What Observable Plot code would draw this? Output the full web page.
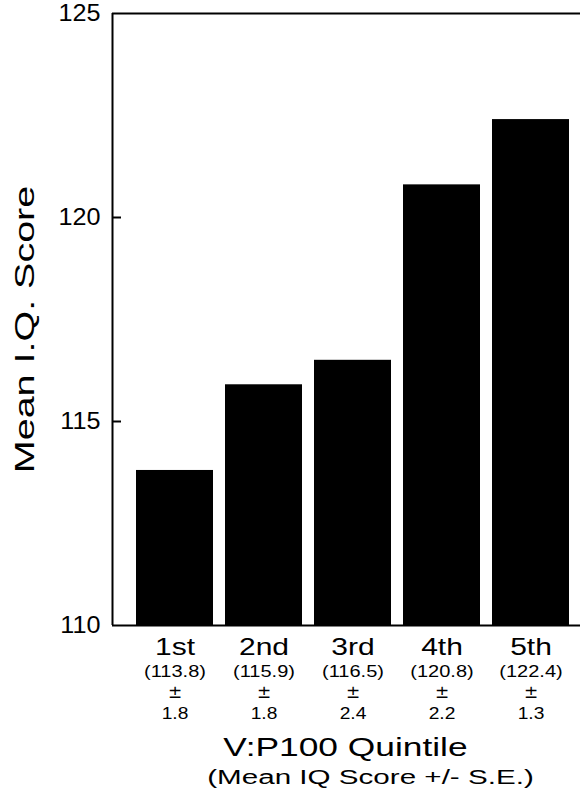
<!DOCTYPE html>
<html>
<head>
<meta charset="utf-8">
<script src="https://cdn.jsdelivr.net/npm/d3@7"></script>
<script src="https://cdn.jsdelivr.net/npm/@observablehq/plot@0.6"></script>
<style>
  html, body { margin: 0; padding: 0; background: white; }
</style>
</head>
<body>
<div id="chart"></div>
<script>
const quintiles = ["1st", "2nd", "3rd", "4th", "5th"];
const meanIQ = [113.8, 115.9, 116.5, 120.8, 122.4];
const stdErr = [1.8, 1.8, 2.4, 2.2, 1.3];
const yTicks = [110, 115, 120, 125];
const yInnerTicks = [115, 120];
const yDomain = [110, 125];
const xTitle = "V:P100 Quintile";
const xSubtitle = "(Mean IQ Score +/- S.E.)";
const yTitle = "Mean I.Q. Score";

const W = 580, H = 804, mL = 112, mR = 0, mT = 13, mB = 179;

const data = quintiles.map((q, i) => ({q, iq: meanIQ[i], se: stdErr[i]}));

const chart = Plot.plot({
  width: W,
  height: H,
  marginLeft: mL,
  marginRight: mR,
  marginTop: mT,
  marginBottom: mB,
  style: {fontFamily: "'Liberation Sans', Arial, Helvetica, sans-serif", background: "white", color: "black"},
  x: {domain: quintiles, paddingInner: 0.14, paddingOuter: 0.184, align: 0.667, axis: null},
  y: {domain: yDomain, axis: null},
  marks: [
    Plot.barY(data, {x: "q", y1: yDomain[0], y2: "iq", fill: "black"}),
    Plot.ruleY(yDomain, {stroke: "black", strokeWidth: 2}),
    Plot.ruleX([yDomain], {x: null, y1: d => d[0], y2: d => d[1], dx: -(W - mL - mR) / 2, stroke: "black", strokeWidth: 2}),
    Plot.axisY(yInnerTicks, {tickSize: 9, dx: 9, strokeWidth: 2, tickFormat: () => "", label: null}),
    Plot.axisY(yTicks, {tickSize: 0, tickPadding: 12, fontSize: 24, label: null}),
    Plot.text(data, {x: "q", frameAnchor: "bottom", text: "q", dy: 29, lineAnchor: "bottom", fontSize: 24}),
    Plot.text(data, {x: "q", frameAnchor: "bottom", text: d => `(${d.iq.toFixed(1)})`, dy: 51, lineAnchor: "bottom", fontSize: 16}),
    Plot.text(data, {x: "q", frameAnchor: "bottom", text: () => "±", dy: 72, lineAnchor: "bottom", fontSize: 17, fontFamily: "'DejaVu Sans', sans-serif"}),
    Plot.text(data, {x: "q", frameAnchor: "bottom", text: d => d.se.toFixed(1), dy: 93, lineAnchor: "bottom", fontSize: 16}),
    Plot.text([xTitle], {frameAnchor: "bottom", text: d => d, dy: 130, dx: -1, lineAnchor: "bottom", fontSize: 26}),
    Plot.text([xSubtitle], {frameAnchor: "bottom", text: d => d, dy: 158, dx: 24, lineAnchor: "bottom", fontSize: 21}),
    Plot.text([yTitle], {frameAnchor: "left", textAnchor: "middle", text: d => d, dx: -79, dy: 10, rotate: -90, lineAnchor: "bottom", fontSize: 28})
  ]
});

// horizontal stretch of glyphs, to match the wide lettering of the original
const seStrings = stdErr.map(v => v.toFixed(1));
const tickStrings = yTicks.map(String);
function stretchFor(s) {
  if (s === yTitle) return 1.41;
  if (s === xTitle) return 1.36;
  if (s === xSubtitle) return 1.41;
  if (quintiles.includes(s)) return 1.25;
  if (/^\(\d/.test(s)) return 1.25;
  if (seStrings.includes(s)) return 1.2;
  if (tickStrings.includes(s)) return 1.05;
  return 1;
}
chart.querySelectorAll("text").forEach(t => {
  const s = stretchFor(t.textContent.trim());
  if (s === 1) return;
  let tr = t.getAttribute("transform");
  if (!tr) {
    const x = t.getAttribute("x") || 0, y = t.getAttribute("y") || 0;
    t.removeAttribute("x"); t.removeAttribute("y");
    tr = `translate(${x},${y})`;
  }
  t.setAttribute("transform", tr + ` scale(${s},1)`);
});
document.getElementById("chart").appendChild(chart);
</script>
</body>
</html>
